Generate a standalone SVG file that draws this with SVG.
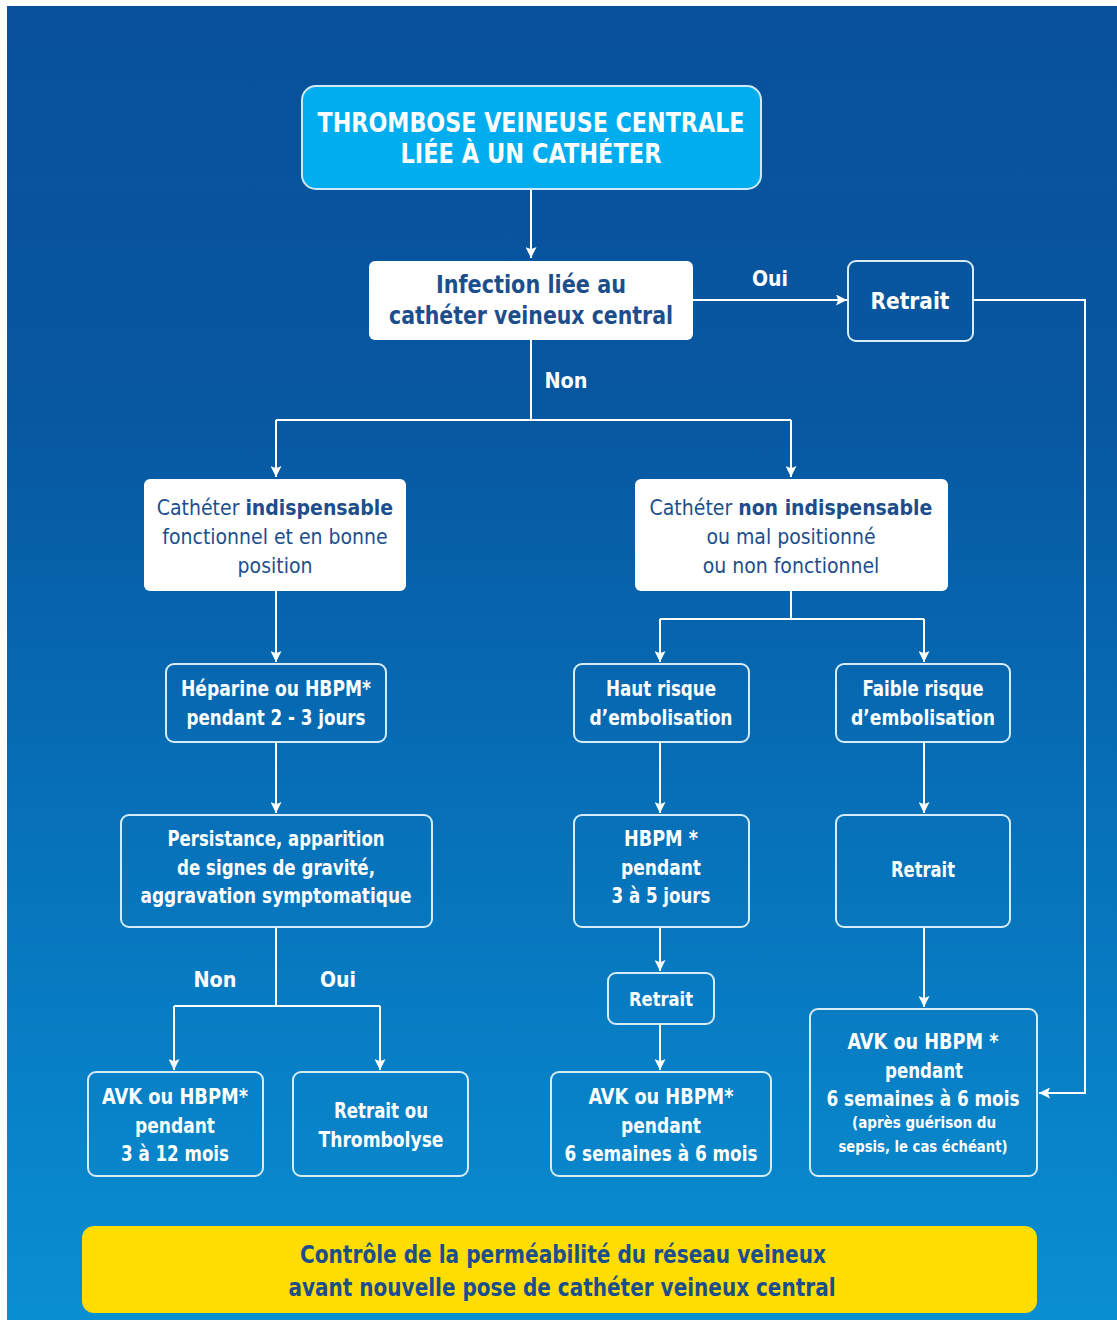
<svg xmlns="http://www.w3.org/2000/svg" width="1117" height="1320" viewBox="0 0 1117 1320">
<defs>
<linearGradient id="bg" x1="0" y1="0" x2="0" y2="1">
<stop offset="0" stop-color="#08519a"/>
<stop offset="0.3" stop-color="#0757a0"/>
<stop offset="0.65" stop-color="#0673bb"/>
<stop offset="1" stop-color="#0a8fd1"/>
</linearGradient>
<marker id="ar" viewBox="0 0 10 10" refX="10" refY="5" markerWidth="11" markerHeight="11" markerUnits="userSpaceOnUse" orient="auto">
<path d="M0,0 L10,5 L0,10 L2,5 Z" fill="#ffffff"/>
</marker>
<style>
.t{font-family:"Liberation Sans Narrow","DejaVu Sans Condensed","Arial Narrow","Liberation Sans",sans-serif;font-stretch:condensed;font-weight:bold;text-anchor:middle}
.w{fill:#ffffff}
.d{fill:#1d4e8c}
.n{font-weight:normal}
.box{fill:none;stroke:#d6ecf8;stroke-width:2}
.wbox{fill:#ffffff}
.c{fill:none;stroke:#ffffff;stroke-width:2}
</style>
</defs>
<rect x="7" y="6" width="1110" height="1314" fill="url(#bg)"/>

<g id="connectors">
<path class="c" d="M531,189 V258" marker-end="url(#ar)"/>
<path class="c" d="M693,300 H847" marker-end="url(#ar)"/>
<path class="c" d="M973,300 H1085 V1093 H1039" marker-end="url(#ar)"/>
<path class="c" d="M531,340 V420"/>
<path class="c" d="M276,420 H791"/>
<path class="c" d="M276,420 V477" marker-end="url(#ar)"/>
<path class="c" d="M791,420 V477" marker-end="url(#ar)"/>
<path class="c" d="M276,591 V662" marker-end="url(#ar)"/>
<path class="c" d="M276,742 V813" marker-end="url(#ar)"/>
<path class="c" d="M276,927 V1006"/>
<path class="c" d="M174,1006 H380"/>
<path class="c" d="M174,1006 V1070" marker-end="url(#ar)"/>
<path class="c" d="M380,1006 V1070" marker-end="url(#ar)"/>
<path class="c" d="M791,591 V619"/>
<path class="c" d="M660,619 H924"/>
<path class="c" d="M660,619 V662" marker-end="url(#ar)"/>
<path class="c" d="M924,619 V662" marker-end="url(#ar)"/>
<path class="c" d="M660,742 V813" marker-end="url(#ar)"/>
<path class="c" d="M660,927 V971" marker-end="url(#ar)"/>
<path class="c" d="M660,1024 V1070" marker-end="url(#ar)"/>
<path class="c" d="M924,742 V813" marker-end="url(#ar)"/>
<path class="c" d="M924,927 V1007" marker-end="url(#ar)"/>
<text class="t w" x="770" y="286" font-size="22" textLength="36" lengthAdjust="spacingAndGlyphs">Oui</text>
<text class="t w" x="566" y="388" font-size="22" textLength="43" lengthAdjust="spacingAndGlyphs">Non</text>
<text class="t w" x="215" y="987" font-size="22" textLength="43" lengthAdjust="spacingAndGlyphs">Non</text>
<text class="t w" x="338" y="987" font-size="22" textLength="36" lengthAdjust="spacingAndGlyphs">Oui</text>
</g>

<g id="title">
<rect x="302" y="86" width="459" height="103" rx="14" fill="#00aeef" stroke="#cfe9f7" stroke-width="2"/>
<text class="t w" x="531" y="132" font-size="26" textLength="427" lengthAdjust="spacingAndGlyphs">THROMBOSE VEINEUSE CENTRALE</text>
<text class="t w" x="531" y="163" font-size="26" textLength="261" lengthAdjust="spacingAndGlyphs">LIÉE À UN CATHÉTER</text>
</g>

<g id="infection">
<rect class="wbox" x="369" y="261" width="324" height="79" rx="6"/>
<text class="t d" x="531" y="293" font-size="24" textLength="190" lengthAdjust="spacingAndGlyphs">Infection liée au</text>
<text class="t d" x="531" y="324" font-size="24" textLength="284" lengthAdjust="spacingAndGlyphs">cathéter veineux central</text>
</g>

<g id="retrait1">
<rect class="box" x="848" y="261" width="125" height="80" rx="8"/>
<text class="t w" x="910" y="309" font-size="23" textLength="79" lengthAdjust="spacingAndGlyphs">Retrait</text>
</g>

<g id="indispensable">
<rect class="wbox" x="144" y="479" width="262" height="112" rx="6"/>
<text class="t d" x="275" y="515" font-size="21"><tspan class="n">Cathéter </tspan>indispensable</text>
<text class="t d n" x="275" y="544" font-size="21">fonctionnel et en bonne</text>
<text class="t d n" x="275" y="573" font-size="21">position</text>
</g>

<g id="non-indispensable">
<rect class="wbox" x="635" y="479" width="313" height="112" rx="6"/>
<text class="t d" x="791" y="515" font-size="21"><tspan class="n">Cathéter </tspan>non indispensable</text>
<text class="t d n" x="791" y="544" font-size="21">ou mal positionné</text>
<text class="t d n" x="791" y="573" font-size="21">ou non fonctionnel</text>
</g>

<g id="heparine">
<rect class="box" x="166" y="664" width="220" height="78" rx="8"/>
<text class="t w" x="276" y="696" font-size="21" textLength="190" lengthAdjust="spacingAndGlyphs">Héparine ou HBPM*</text>
<text class="t w" x="276" y="725" font-size="21" textLength="179" lengthAdjust="spacingAndGlyphs">pendant 2 - 3 jours</text>
</g>

<g id="persistance">
<rect class="box" x="121" y="815" width="311" height="112" rx="8"/>
<text class="t w" x="276" y="846" font-size="21" textLength="217" lengthAdjust="spacingAndGlyphs">Persistance, apparition</text>
<text class="t w" x="276" y="875" font-size="21" textLength="198" lengthAdjust="spacingAndGlyphs">de signes de gravité,</text>
<text class="t w" x="276" y="903" font-size="21" textLength="271" lengthAdjust="spacingAndGlyphs">aggravation symptomatique</text>
</g>

<g id="avk1">
<rect class="box" x="88" y="1072" width="175" height="104" rx="8"/>
<text class="t w" x="175" y="1104" font-size="21" textLength="146" lengthAdjust="spacingAndGlyphs">AVK ou HBPM*</text>
<text class="t w" x="175" y="1133" font-size="21" textLength="80" lengthAdjust="spacingAndGlyphs">pendant</text>
<text class="t w" x="175" y="1161" font-size="21" textLength="108" lengthAdjust="spacingAndGlyphs">3 à 12 mois</text>
</g>

<g id="thrombolyse">
<rect class="box" x="293" y="1072" width="175" height="104" rx="8"/>
<text class="t w" x="381" y="1118" font-size="21" textLength="94" lengthAdjust="spacingAndGlyphs">Retrait ou</text>
<text class="t w" x="381" y="1147" font-size="21" textLength="125" lengthAdjust="spacingAndGlyphs">Thrombolyse</text>
</g>

<g id="haut-risque">
<rect class="box" x="574" y="664" width="175" height="78" rx="8"/>
<text class="t w" x="661" y="696" font-size="21" textLength="110" lengthAdjust="spacingAndGlyphs">Haut risque</text>
<text class="t w" x="661" y="725" font-size="21" textLength="143" lengthAdjust="spacingAndGlyphs">d’embolisation</text>
</g>

<g id="faible-risque">
<rect class="box" x="836" y="664" width="174" height="78" rx="8"/>
<text class="t w" x="923" y="696" font-size="21" textLength="121" lengthAdjust="spacingAndGlyphs">Faible risque</text>
<text class="t w" x="923" y="725" font-size="21" textLength="144" lengthAdjust="spacingAndGlyphs">d’embolisation</text>
</g>

<g id="hbpm">
<rect class="box" x="574" y="815" width="175" height="112" rx="8"/>
<text class="t w" x="661" y="846" font-size="21" textLength="74" lengthAdjust="spacingAndGlyphs">HBPM *</text>
<text class="t w" x="661" y="875" font-size="21" textLength="80" lengthAdjust="spacingAndGlyphs">pendant</text>
<text class="t w" x="661" y="903" font-size="21" textLength="99" lengthAdjust="spacingAndGlyphs">3 à 5 jours</text>
</g>

<g id="retrait2">
<rect class="box" x="608" y="973" width="106" height="51" rx="8"/>
<text class="t w" x="661" y="1006" font-size="19" textLength="64" lengthAdjust="spacingAndGlyphs">Retrait</text>
</g>

<g id="avk3">
<rect class="box" x="551" y="1072" width="220" height="104" rx="8"/>
<text class="t w" x="661" y="1104" font-size="21" textLength="145" lengthAdjust="spacingAndGlyphs">AVK ou HBPM*</text>
<text class="t w" x="661" y="1133" font-size="21" textLength="80" lengthAdjust="spacingAndGlyphs">pendant</text>
<text class="t w" x="661" y="1161" font-size="21" textLength="193" lengthAdjust="spacingAndGlyphs">6 semaines à 6 mois</text>
</g>

<g id="retrait3">
<rect class="box" x="836" y="815" width="174" height="112" rx="8"/>
<text class="t w" x="923" y="877" font-size="21" textLength="64" lengthAdjust="spacingAndGlyphs">Retrait</text>
</g>

<g id="avk4">
<rect class="box" x="810" y="1009" width="227" height="167" rx="8"/>
<text class="t w" x="923" y="1049" font-size="21" textLength="151" lengthAdjust="spacingAndGlyphs">AVK ou HBPM *</text>
<text class="t w" x="924" y="1078" font-size="21" textLength="78" lengthAdjust="spacingAndGlyphs">pendant</text>
<text class="t w" x="923" y="1106" font-size="21" textLength="193" lengthAdjust="spacingAndGlyphs">6 semaines à 6 mois</text>
<text class="t w" x="924" y="1128" font-size="16" textLength="144" lengthAdjust="spacingAndGlyphs">(après guérison du</text>
<text class="t w" x="923" y="1152" font-size="16" textLength="169" lengthAdjust="spacingAndGlyphs">sepsis, le cas échéant)</text>
</g>

<g id="banner">
<rect x="82" y="1226" width="955" height="87" rx="12" fill="#ffdd00"/>
<text class="t d" x="563" y="1263" font-size="24" textLength="526" lengthAdjust="spacingAndGlyphs">Contrôle de la perméabilité du réseau veineux</text>
<text class="t d" x="562" y="1296" font-size="24" textLength="547" lengthAdjust="spacingAndGlyphs">avant nouvelle pose de cathéter veineux central</text>
</g>
</svg>
